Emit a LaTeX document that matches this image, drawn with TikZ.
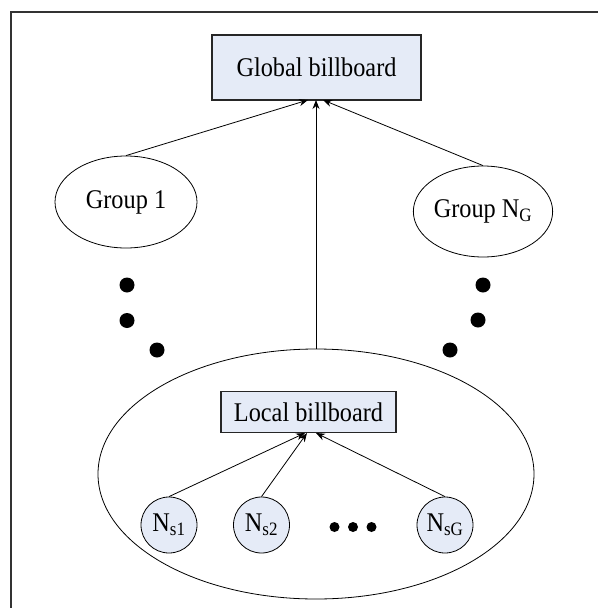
\documentclass[tikz,border=0pt]{standalone}
\usepackage{fontspec}
\setmainfont[FakeStretch=0.9]{Liberation Serif}
\usetikzlibrary{arrows.meta,shapes.geometric}
\definecolor{boxfill}{RGB}{229,235,247}
\tikzset{
  every node/.style={font=\fontsize{27}{29}\selectfont},
  board/.style={draw=black!85, fill=boxfill, line width=1.1pt, inner sep=0pt},
  group/.style={draw, ellipse, line width=0.8pt, inner sep=0pt},
  member/.style={draw, circle, fill=boxfill, line width=0.8pt, minimum size=56pt, inner sep=0pt},
  link/.style={line width=0.8pt, -{Stealth[length=9pt,width=7pt]}},
  blob/.style={fill=black, circle, inner sep=0pt, minimum size=15pt},
  smallblob/.style={fill=black, circle, inner sep=0pt, minimum size=10pt},
}
\begin{document}
\begin{tikzpicture}[x=1pt, y=-1pt]
\useasboundingbox (0,0) rectangle (598,608);
% outer frame (top and left edges)
\draw[line width=1.3pt, black!80] (11,608) -- (11,12) -- (598,12);

% global billboard
\node[board, minimum width=209pt, minimum height=65pt] (global) at (316.5,67.5) {Global billboard};

% groups
\node[group, minimum width=142pt, minimum height=92pt] (g1) at (126,202) {Group 1};
\node[group, minimum width=136pt, minimum height=91pt] (gn) at (483,211.5) {Group N\textsubscript{G}};

% the expanded group with its local billboard
\node[group, minimum width=436pt, minimum height=250pt] (gs) at (316,474) {};
\node[board, minimum width=175pt, minimum height=41pt] (local) at (308.5,412) {Local billboard};

% members
\node[member] (n1) at (169,525) {N\textsubscript{s1}};
\node[member] (n2) at (261.5,525) {N\textsubscript{s2}};
\node[member] (nG) at (445,525) {N\textsubscript{sG}};
\node[smallblob] (d1) at (334.5,527) {};
\node[smallblob] (d2) at (353,527) {};
\node[smallblob] (d3) at (371.5,527) {};

% groups in between
\node[blob] (l1) at (127,285) {};
\node[blob] (l2) at (127,320.5) {};
\node[blob] (l3) at (157,350) {};
\node[blob] (r1) at (483,285) {};
\node[blob] (r2) at (478,320) {};
\node[blob] (r3) at (450,350) {};

% reports to the global billboard
\coordinate (gt1) at (308,100);
\coordinate (gt2) at (316,100);
\coordinate (gt3) at (323,100);
\draw[link] (g1.north) -- (gt1);
\draw[link] (gs.north) -- (gt2);
\draw[link] (gn.north) -- (gt3);

% reports to the local billboard
\coordinate (lt1) at (305,433);
\coordinate (lt2) at (307,433);
\coordinate (lt3) at (316,433);
\draw[link] (n1.north) -- (lt1);
\draw[link] (n2.north) -- (lt2);
\draw[link] (nG.north) -- (lt3);
\end{tikzpicture}
\end{document}
